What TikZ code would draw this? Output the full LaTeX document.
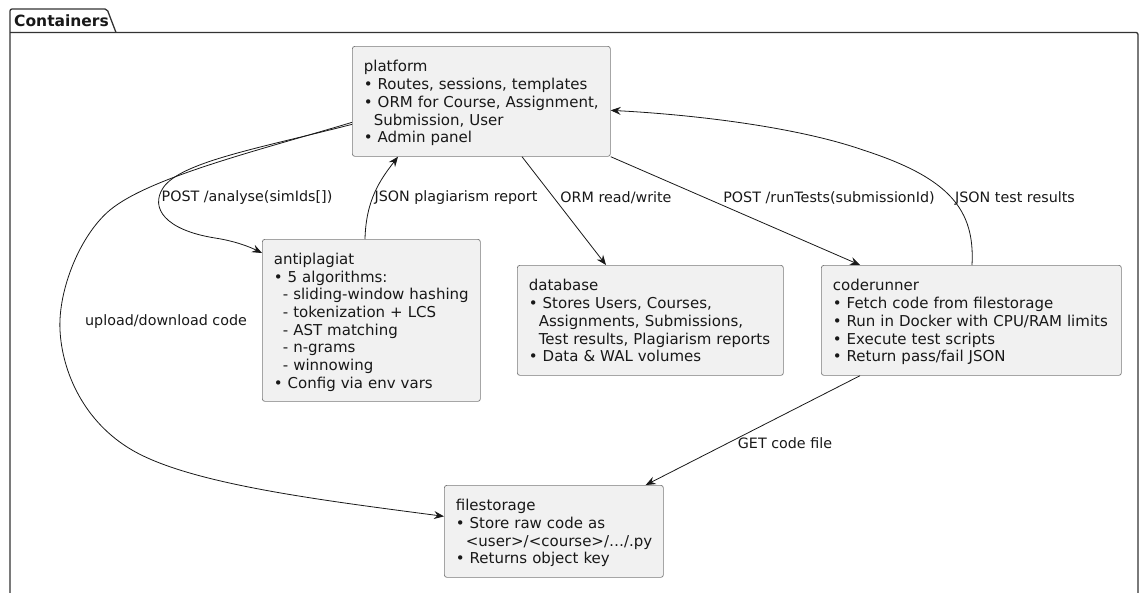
\documentclass[tikz,border=0pt]{standalone}
\usepackage{fontspec}
\setmainfont{DejaVu Sans}
\usetikzlibrary{arrows.meta}
\definecolor{boxfill}{HTML}{F1F1F1}
\definecolor{boxline}{HTML}{7A7A7A}
\definecolor{ink}{HTML}{181818}
\definecolor{frameline}{HTML}{333333}
% one-column text block that never wraps, set a little low in its box
\newcommand\boxtext[1]{\raisebox{0pt}[\height][\dimexpr\depth-5pt\relax]{\begin{tabular}{@{}l@{}}#1\end{tabular}}}
\begin{document}
\begin{tikzpicture}[x=1pt,y=-1pt,
  box/.style={draw=boxline, line width=0.7pt, fill=boxfill, rounded corners=2.5pt,
    anchor=north west, align=left, inner xsep=11.5pt, inner ysep=0pt,
    font=\fontsize{15}{17.7}\selectfont, text=ink},
  conn/.style={draw=ink, line width=0.8pt, -{Stealth[length=10pt,width=8pt,inset=3.5pt]}},
  lbl/.style={font=\fontsize{14.3}{16}\selectfont, text=ink, inner sep=1pt},
  frame/.style={draw=frameline, line width=1.3pt, rounded corners=2pt}]
\useasboundingbox (0,0) rectangle (1142,592);

% package outline with its tab
\draw[frame] (10,600) -- (10,9) -- (107,9) -- (116,32.5);
\draw[frame] (10,32.5) -- (1138,32.5) -- (1138,600);
\node[font=\bfseries\fontsize{15.5}{17}\selectfont, anchor=west, inner sep=0pt, text=ink]
  (pkgtitle) at (14,21) {Containers};

% containers
\node[box, minimum width=258pt, minimum height=110pt, text width=235pt] (platform) at (352,46)
  {\boxtext{
   platform\\
   • Routes, sessions, templates\\
   • ORM for Course, Assignment,\\
   \hspace*{10pt}Submission, User\\
   • Admin panel}};

\node[box, minimum width=218pt, minimum height=162pt, text width=195pt] (anti) at (262,239)
  {\boxtext{
   antiplagiat\\
   • 5 algorithms:\\
   \hspace*{9pt}- sliding-window hashing\\
   \hspace*{9pt}- tokenization + LCS\\
   \hspace*{9pt}- AST matching\\
   \hspace*{9pt}- n-grams\\
   \hspace*{9pt}- winnowing\\
   • Config via env vars}};

\node[box, minimum width=266pt, minimum height=110pt, text width=243pt] (db) at (517,265)
  {\boxtext{
   database\\
   • Stores Users, Courses,\\
   \hspace*{10pt}Assignments, Submissions,\\
   \hspace*{10pt}Test results, Plagiarism reports\\
   • Data \& WAL volumes}};

\node[box, minimum width=300pt, minimum height=110pt, text width=277pt] (runner) at (821,265)
  {\boxtext{
   coderunner\\
   • Fetch code from filestorage\\
   • Run in Docker with CPU/RAM limits\\
   • Execute test scripts\\
   • Return pass/fail JSON}};

\node[box, minimum width=219pt, minimum height=92pt, text width=196pt] (store) at (444,485)
  {\boxtext{
   filestorage\\
   • Store raw code as\\
   \hspace*{10pt}<user>/<course>/…/.py\\
   • Returns object key}};

% connectors
\draw[conn] ([yshift=-21pt]platform.west)
  .. controls (260,150) and (150,177) .. (110,210)
  .. controls (80,235) and (58,290) .. (60,330)
  .. controls (62,372) and (84,422) .. (132,450)
  .. controls (190,484) and (320,500) .. ([yshift=15pt]store.west);

\draw[conn] ([yshift=-23pt]platform.west)
  .. controls (260,148) and (180,162) .. (163,188)
  .. controls (150,208) and (165,230) .. (215,238)
  .. controls (235,241) and (250,247) .. ([yshift=-14pt]anti.north west);

\draw[conn] ([xshift=103pt]anti.north west)
  .. controls (366,200) and (380,180) .. ([xshift=46pt]platform.south west);

\draw[conn] ([xshift=170pt]platform.south west) -- ([xshift=89pt]db.north west);

\draw[conn] (platform.south east) -- ([xshift=39pt]runner.north west);

\draw[conn] ([xshift=151pt]runner.north west)
  .. controls (975,210) and (950,178) .. (863,150)
  .. controls (800,128) and (700,115) .. ([yshift=-9pt]platform.east);

\draw[conn] ([xshift=39pt]runner.south west) -- ([xshift=-18pt]store.north east);

% connector labels
\node[lbl] (lanalyse) at (247,198) {POST /analyse(simIds[])};
\node[lbl] (lreport) at (456,198) {JSON plagiarism report};
\node[lbl] (lorm) at (616,198) {ORM read/write};
\node[lbl] (lrun) at (829,198) {POST /runTests(submissionId)};
\node[lbl] (lresults) at (1015,198) {JSON test results};
\node[lbl] (lupload) at (166,322) {upload/download code};
\node[lbl] (lget) at (785,443) {GET code file};
\end{tikzpicture}
\end{document}
